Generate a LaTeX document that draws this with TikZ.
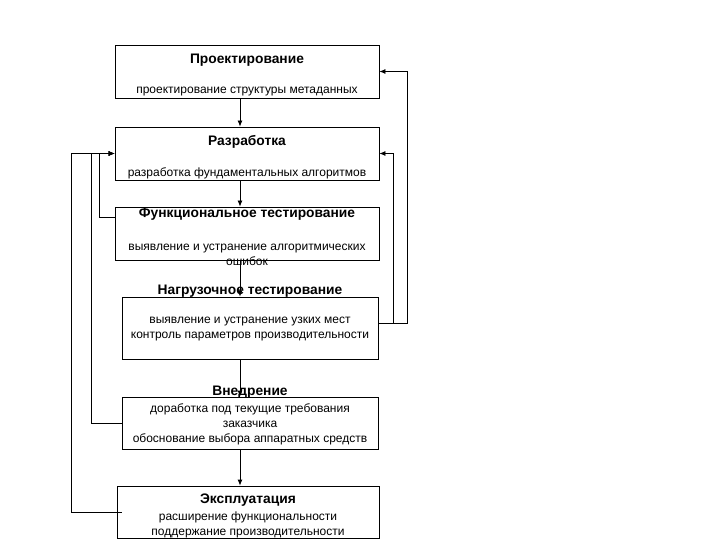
\documentclass[tikz,border=0pt]{standalone}
\usepackage{fontspec}
\setmainfont{Liberation Sans}
\usetikzlibrary{arrows.meta}
\tikzset{
  stage/.style={draw, line width=0.8pt, inner sep=0pt},
  head/.style={font=\fontsize{13.8}{15}\selectfont\bfseries, inner sep=0pt},
  note/.style={font=\fontsize{12}{15}\selectfont, align=center, inner sep=0pt},
  flow/.style={line width=0.8pt, -{Latex[length=6pt,width=5pt]}}
}
\begin{document}
\begin{tikzpicture}[x=1pt, y=-1pt]
      \useasboundingbox (0,0) rectangle (720,540);
      \coordinate (ax) at (240,0);
      \draw
        (247,71.5) node[stage, minimum width=264pt, minimum height=53pt] (proj){}
        (247,153.5) node[stage, minimum width=264pt, minimum height=53pt] (razr){}
        (247,233.5) node[stage, minimum width=264pt, minimum height=53pt] (func){}
        (250,328) node[stage, minimum width=256pt, minimum height=62pt] (nagr){}
        (250,423) node[stage, minimum width=256pt, minimum height=52pt] (vned){}
        (248,512) node[stage, minimum width=262pt, minimum height=52pt] (expl){};
      \draw
        (247,60.5) node[head] (proj-t){Проектирование}
        (247,92) node[note] (proj-s){проектирование структуры метаданных}
        (247,141.5) node[head] (razr-t){Разработка}
        (247,173) node[note] (razr-s){разработка фундаментальных алгоритмов}
        (247,214.5) node[head] (func-t){Функциональное тестирование}
        (247,254.5) node[note] (func-s){выявление и устранение алгоритмических\\ошибок}
        (250,291.5) node[head] (nagr-t){Нагрузочное тестирование}
        (250,329) node[note] (nagr-s){выявление и устранение узких мест\\контроль параметров производительности}
        (250,392.5) node[head] (vned-t){Внедрение}
        (250,424) node[note] (vned-s){доработка под текущие требования\\заказчика\\обоснование выбора аппаратных средств}
        (248,500.5) node[head] (expl-t){Эксплуатация}
        (248,524.5) node[note] (expl-s){расширение функциональности\\поддержание производительности};
      \begin{scope}[flow]
        \draw (proj.south -| ax) to (razr.north -| ax);
        \draw (razr.south -| ax) to (func.north -| ax);
        \draw (func.south -| ax) to (nagr.north -| ax);
        \draw (nagr.south -| ax) to (vned.north -| ax);
        \draw (vned.south -| ax) to (expl.north -| ax);
        \draw ([yshift=16.5pt]func.west) -- ++(-15,0) |- (razr.west);
        \draw (vned.west) -- ++(-30,0) |- (razr.west);
        \draw ([xshift=5pt]expl.west) -- ++(-50,0) |- (razr.west);
        \draw ([yshift=5pt]nagr.east) -- ++(15,0) |- (razr.east);
        \draw ([yshift=5pt]nagr.east) -- ++(29,0) |- (proj.east);
      \end{scope}
    \end{tikzpicture}
\end{document}
